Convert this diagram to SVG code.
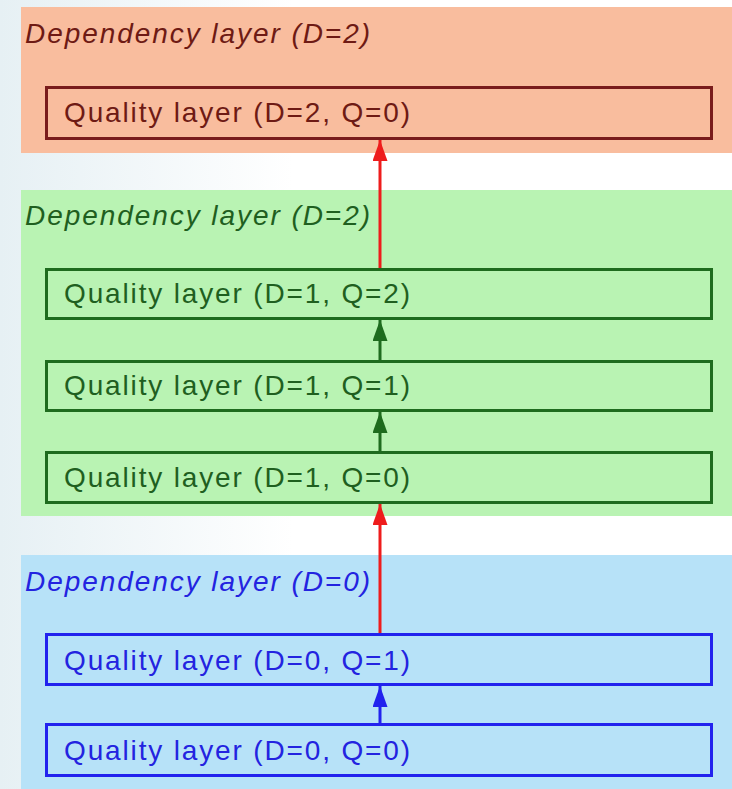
<svg xmlns="http://www.w3.org/2000/svg" width="732" height="789" viewBox="0 0 732 789">
  <defs>
    <linearGradient id="bg" x1="0" y1="0" x2="1" y2="0">
      <stop offset="0" stop-color="#e6f0f4"/>
      <stop offset="0.4" stop-color="#ffffff"/>
      <stop offset="1" stop-color="#ffffff"/>
    </linearGradient>
    <marker id="hRed" viewBox="0 0 14 10" refX="14" refY="5" markerWidth="7" markerHeight="5" orient="auto" markerUnits="strokeWidth">
      <path d="M0,0 L14,5 L0,10 Z" fill="#ee1c1c"/>
    </marker>
    <marker id="hGreen" viewBox="0 0 14 10" refX="14" refY="5" markerWidth="7" markerHeight="5" orient="auto" markerUnits="strokeWidth">
      <path d="M0,0 L14,5 L0,10 Z" fill="#1e6b1e"/>
    </marker>
    <marker id="hBlue" viewBox="0 0 14 10" refX="14" refY="5" markerWidth="7" markerHeight="5" orient="auto" markerUnits="strokeWidth">
      <path d="M0,0 L14,5 L0,10 Z" fill="#2222ee"/>
    </marker>
  </defs>
  <style>
    .dep { font-family: "Liberation Sans", Arial, sans-serif; font-size: 28px; font-style: italic; }
    .q { font-family: "Liberation Sans", Arial, sans-serif; font-size: 28px; }
    .box { stroke-width: 3; }
    .orange .band { fill: #f9bd9e; }
    .orange .box { fill: #f9bd9e; stroke: #7a1c1c; }
    .orange text { fill: #6e1a14; }
    .green .band { fill: #b9f3b3; }
    .green .box { fill: #b9f3b3; stroke: #1e6b1e; }
    .green text { fill: #1f5f1f; }
    .blue .band { fill: #b7e2f8; }
    .blue .box { fill: #b7e2f8; stroke: #2222ee; }
    .blue text { fill: #2323e0; }
    .conn line { stroke-width: 3; fill: none; }
  </style>
  <rect x="0" y="0" width="732" height="789" fill="url(#bg)"/>

  <g id="layer-d2" class="orange">
    <rect class="band" x="21" y="7" width="711" height="146"/>
    <text class="dep" x="25" y="43" textLength="345" lengthAdjust="spacing">Dependency layer (D=2)</text>
    <g id="q-d2-q0">
      <rect class="box" x="46.5" y="87.5" width="665" height="51"/>
      <text class="q" x="64" y="122" textLength="346" lengthAdjust="spacing">Quality layer (D=2, Q=0)</text>
    </g>
  </g>

  <g id="layer-d1" class="green">
    <rect class="band" x="21" y="190" width="711" height="326"/>
    <text class="dep" x="25" y="225" textLength="345" lengthAdjust="spacing">Dependency layer (D=2)</text>
    <g id="q-d1-q2">
      <rect class="box" x="46.5" y="269.5" width="665" height="49"/>
      <text class="q" x="64" y="303" textLength="346" lengthAdjust="spacing">Quality layer (D=1, Q=2)</text>
    </g>
    <g id="q-d1-q1">
      <rect class="box" x="46.5" y="361.5" width="665" height="49"/>
      <text class="q" x="64" y="395" textLength="346" lengthAdjust="spacing">Quality layer (D=1, Q=1)</text>
    </g>
    <g id="q-d1-q0">
      <rect class="box" x="46.5" y="452.5" width="665" height="50"/>
      <text class="q" x="64" y="487" textLength="346" lengthAdjust="spacing">Quality layer (D=1, Q=0)</text>
    </g>
  </g>

  <g id="layer-d0" class="blue">
    <rect class="band" x="21" y="555" width="711" height="234"/>
    <text class="dep" x="25" y="591" textLength="345" lengthAdjust="spacing">Dependency layer (D=0)</text>
    <g id="q-d0-q1">
      <rect class="box" x="46.5" y="634.5" width="665" height="50"/>
      <text class="q" x="64" y="670" textLength="346" lengthAdjust="spacing">Quality layer (D=0, Q=1)</text>
    </g>
    <g id="q-d0-q0">
      <rect class="box" x="46.5" y="724.5" width="665" height="51"/>
      <text class="q" x="64" y="760" textLength="346" lengthAdjust="spacing">Quality layer (D=0, Q=0)</text>
    </g>
  </g>

  <g id="connectors" class="conn">
    <line x1="380" y1="268" x2="380" y2="140" stroke="#ee1c1c" marker-end="url(#hRed)"/>
    <line x1="380" y1="360" x2="380" y2="320" stroke="#1e6b1e" marker-end="url(#hGreen)"/>
    <line x1="380" y1="451" x2="380" y2="412" stroke="#1e6b1e" marker-end="url(#hGreen)"/>
    <line x1="380" y1="633" x2="380" y2="504" stroke="#ee1c1c" marker-end="url(#hRed)"/>
    <line x1="380" y1="723" x2="380" y2="686" stroke="#2222ee" marker-end="url(#hBlue)"/>
  </g>
</svg>
